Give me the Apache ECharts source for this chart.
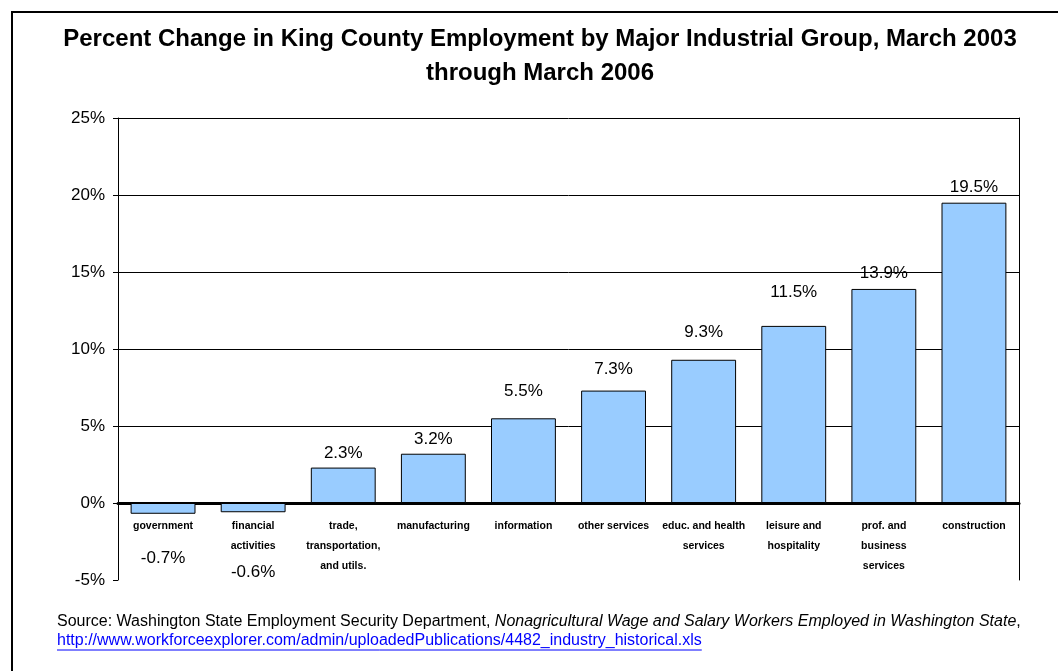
<!DOCTYPE html>
<html>
<head>
<meta charset="utf-8">
<script src="https://cdn.jsdelivr.net/npm/echarts@6/dist/echarts.min.js"></script>
<style>
  html, body { margin: 0; padding: 0; background: #fff; }
  #chart { width: 1058px; height: 671px; }
</style>
</head>
<body>
<div id="chart"></div>
<script>
// Industry groups (x axis, line breaks as shown under each bar)
const categories = [
  'government',
  'financial\nactivities',
  'trade,\ntransportation,\nand utils.',
  'manufacturing',
  'information',
  'other services',
  'educ. and health\nservices',
  'leisure and\nhospitality',
  'prof. and\nbusiness\nservices',
  'construction'
];
// Percent change, March 2003 through March 2006
const pctChange = [-0.7, -0.6, 2.3, 3.2, 5.5, 7.3, 9.3, 11.5, 13.9, 19.5];
// Y axis range and step (percent)
const yMin = -5, yMax = 25, yStep = 5;

// Extra lift (px) of each value label above its bar, so labels stay clear of gridlines
const labelLift = [0, 0, 0, 0, 12, 7, 13, 19, 1, 1];

const titleLines = [
  'Percent Change in King County Employment by Major Industrial Group, March 2003',
  'through March 2006'
];
const sourcePlain = 'Source: Washington State Employment Security Department, ';
const sourceItalic = 'Nonagricultural Wage and Salary Workers Employed in Washington State';
const sourceUrl = 'http://www.workforceexplorer.com/admin/uploadedPublications/4482_industry_historical.xls';

const FONT = 'Arial, "Liberation Sans", Helvetica, sans-serif';

const GRID = { left: 118, right: 39, top: 118, bottom: 91 };
const plotH = 671 - GRID.top - GRID.bottom;
// distance from the bottom of the plot up to the zero line
const zeroFromBottom = (0 - yMin) / (yMax - yMin) * plotH;

function measure(text, font) {
  const c = document.createElement('canvas').getContext('2d');
  c.font = font;
  return c.measureText(text).width;
}
const urlWidth = measure(sourceUrl, '16px ' + FONT);

// Negative values sit below the (possibly multi-line) category label
const barData = pctChange.map((v, i) => {
  const lines = categories[i].split('\n').length;
  const item = { value: v };
  if (v < 0) {
    item.label = { position: 'bottom', distance: 20 + 16 * lines };
  } else {
    item.label = { position: 'top', distance: 6 + labelLift[i] };
  }
  return item;
});

const chart = echarts.init(document.getElementById('chart'), null, { renderer: 'canvas' });
chart.setOption({
  backgroundColor: '#ffffff',
  animation: false,
  grid: Object.assign({ containLabel: false }, GRID),
  xAxis: {
    type: 'category',
    data: categories,
    axisLine: { show: true, onZero: true, lineStyle: { color: '#000', width: 3 } },
    axisTick: { show: false },
    axisLabel: {
      interval: 0,
      // labels hang just below the zero line
      margin: 13 - zeroFromBottom,
      color: '#000',
      fontFamily: FONT,
      fontWeight: 'bold',
      fontSize: 10.5,
      lineHeight: 20
    }
  },
  yAxis: [{
    type: 'value',
    min: yMin, max: yMax, interval: yStep,
    axisLine: { show: true, lineStyle: { color: '#000', width: 1 } },
    axisTick: { show: true, inside: false, length: 5, lineStyle: { color: '#000' } },
    axisLabel: {
      formatter: v => v + '%',
      color: '#000', fontFamily: FONT, fontSize: 17, margin: 13
    },
    splitLine: { show: true, showMinLine: false, lineStyle: { color: '#000', width: 1 } }
  }, {
    type: 'value',
    position: 'right',
    min: yMin, max: yMax, interval: yStep,
    axisLine: { show: true, lineStyle: { color: '#000', width: 1 } },
    axisTick: { show: false },
    axisLabel: { show: false },
    splitLine: { show: false }
  }],
  series: [{
    type: 'bar',
    data: barData,
    barWidth: '72%',
    itemStyle: { color: '#99CCFF', borderColor: '#000', borderWidth: 1 },
    label: {
      show: true,
      position: 'top',
      distance: 6,
      formatter: p => p.value.toFixed(1) + '%',
      color: '#000',
      fontFamily: FONT,
      fontSize: 17
    }
  }],
  graphic: [
    {
      type: 'rect', silent: true, z: -1,
      shape: { x: 12, y: 12, width: 1070, height: 690 },
      style: { fill: 'none', stroke: '#000', lineWidth: 2 }
    },
    {
      type: 'text', x: 540, y: 56,
      style: {
        text: titleLines.join('\n'),
        font: 'bold 24px ' + FONT,
        lineHeight: 34,
        fill: '#000',
        align: 'center',
        verticalAlign: 'middle'
      }
    },
    {
      type: 'text', x: 57, y: 622,
      style: {
        text: '{a|' + sourcePlain + '}{i|' + sourceItalic + '}{a|,}',
        verticalAlign: 'middle',
        rich: {
          a: { font: '16px ' + FONT, fill: '#000' },
          i: { font: 'italic 16px ' + FONT, fill: '#000' }
        }
      }
    },
    {
      type: 'text', x: 57, y: 641,
      style: {
        text: sourceUrl,
        font: '16px ' + FONT,
        fill: '#0000FF',
        verticalAlign: 'middle'
      }
    },
    {
      type: 'line', silent: true,
      shape: { x1: 57, y1: 650, x2: 57 + urlWidth, y2: 650 },
      style: { stroke: '#0000FF', lineWidth: 1 }
    }
  ]
});
</script>
</body>
</html>
